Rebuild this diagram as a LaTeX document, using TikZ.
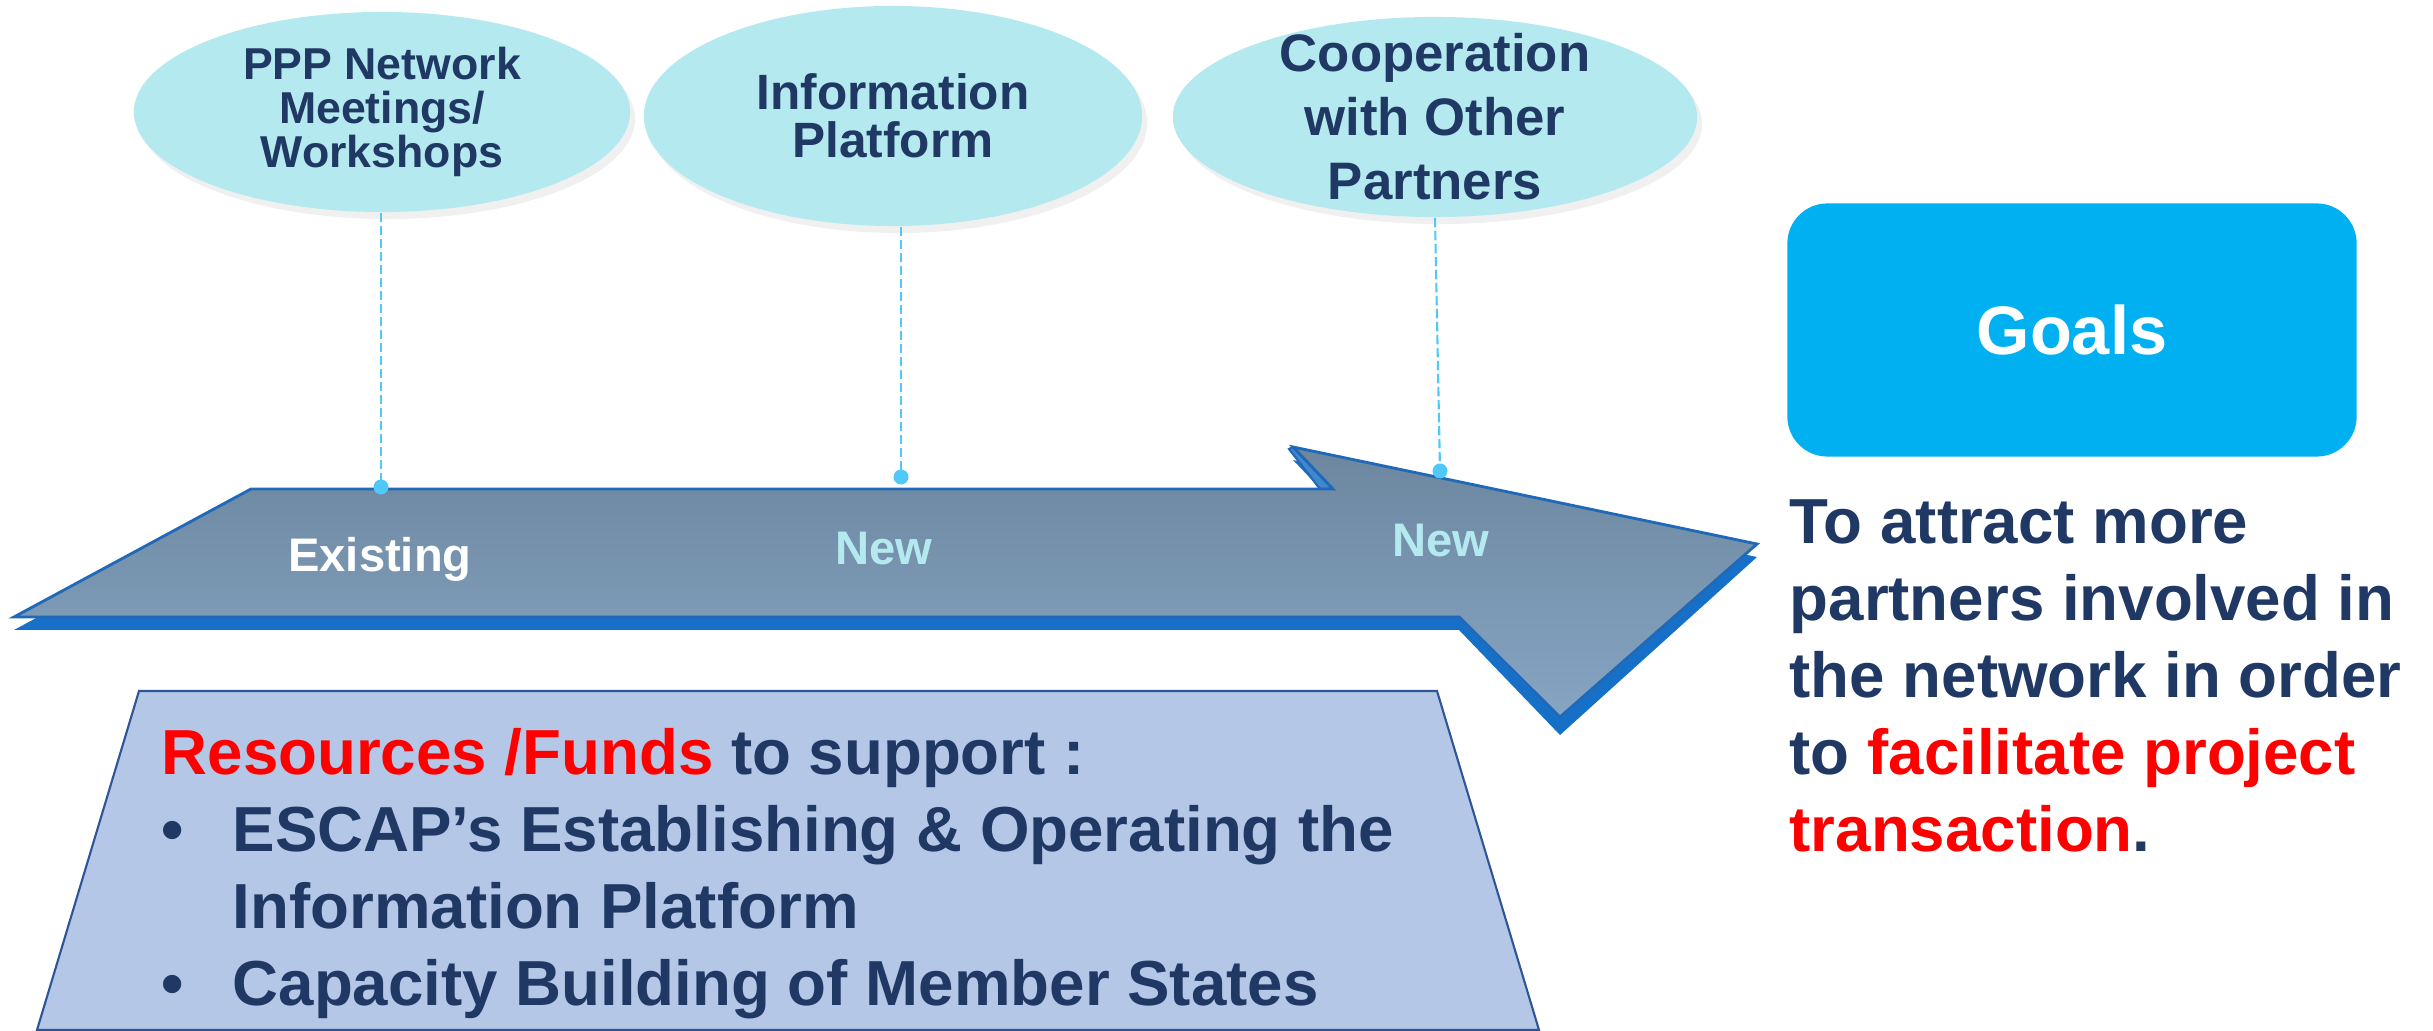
\documentclass[tikz,border=0pt]{standalone}
\usepackage{fontspec}
\setmainfont{Liberation Sans}
\usepackage{tikz}
\usetikzlibrary{shapes.geometric,shadows}
\definecolor{bubblecyan}{RGB}{180,234,239}
\definecolor{navy}{RGB}{31,56,100}
\definecolor{goalblue}{RGB}{0,176,240}
\definecolor{arrowtop}{RGB}{108,134,158}
\definecolor{arrowbot}{RGB}{134,165,196}
\definecolor{arrowside}{RGB}{23,112,200}
\definecolor{arrowstrip}{RGB}{64,135,205}
\definecolor{arrowline}{RGB}{32,104,184}
\definecolor{fundfill}{RGB}{180,199,231}
\definecolor{fundline}{RGB}{47,85,151}
\definecolor{dashblue}{RGB}{80,200,248}

\begin{document}
\begin{tikzpicture}[x=0.01cm,y=-0.01cm,
  bubble/.style={ellipse,fill=bubblecyan,text=navy,align=center,inner sep=0pt,
    drop shadow={opacity=0.12,shadow xshift=0.05cm,shadow yshift=-0.07cm}},
  marker/.style={dashblue,line width=0.6pt,dash pattern=on 2.7pt off 1pt},
  tag/.style={font=\fontsize{13.4pt}{16pt}\selectfont\bfseries,anchor=base,inner sep=0pt},
  bigtext/.style={font=\fontsize{18.1pt}{21.9pt}\selectfont\bfseries,text=navy,align=left,anchor=north west,inner sep=0pt}]
\useasboundingbox (0,0) rectangle (2433,1031);

\node[bubble,minimum width=4.96cm,minimum height=2cm,font=\fontsize{12.7pt}{12.4pt}\selectfont\bfseries] (meet) at (382,112) {PPP Network\\Meetings/\\Workshops};
\node[bubble,minimum width=4.98cm,minimum height=2.2cm,font=\fontsize{14.1pt}{13.7pt}\selectfont\bfseries] (info) at (893,116) {Information\\Platform};
\node[bubble,minimum width=5.24cm,minimum height=2cm,inner ysep=-0.3cm,font=\fontsize{15pt}{18.2pt}\selectfont\bfseries] (coop) at (1435,117) {Cooperation\\with Other\\Partners};

\fill[arrowside] (14,630) -- (251,502) -- (1333,502) -- (1293,460) -- (1757,557) -- (1560,735) -- (1459,630) -- cycle;
\filldraw[fill=arrowstrip,draw=arrowline,line width=0.6pt] (1289,449) -- (1320,489) -- (1333,489) -- (1293,447) -- cycle;
\shadedraw[top color=arrowtop,bottom color=arrowbot,draw=arrowline,line width=0.8pt] (14,617) -- (251,489) -- (1333,489) -- (1293,447) -- (1757,544) -- (1560,717) -- (1459,617) -- cycle;

\coordinate (d1) at (381,487);
\coordinate (d2) at (901,477);
\coordinate (d3) at (1440,471);
\draw[marker] (meet.south -| d1) -- (d1);
\draw[marker] (info.south -| d2) -- (d2);
\draw[marker] (coop.south) -- (d3);
\fill[dashblue] (d1) circle[radius=0.075cm];
\fill[dashblue] (d2) circle[radius=0.075cm];
\fill[dashblue] (d3) circle[radius=0.075cm];

\node[tag,text=white] (exist) at (380,572) {Existing};
\node[tag,text=bubblecyan] (new1) at (884,565) {New};
\node[tag,text=bubblecyan] (new2) at (1441,557) {New};

\node[rounded corners=0.4cm,fill=goalblue,minimum width=5.69cm,minimum height=2.53cm,text=white,font=\fontsize{19.5pt}{22pt}\selectfont\bfseries] (goals) at (2072,330) {Goals};
\node[bigtext] (aim) at (1789,499) {To attract more\\partners involved in\\the network in order\\to \textcolor{red}{facilitate project}\\\textcolor{red}{transaction}.};

\filldraw[fill=fundfill,draw=fundline,line width=0.6pt] (139,691) -- (1437,691) -- (1539,1030) -- (37,1030) -- cycle;
\node[bigtext] (funds) at (161,728) {\textcolor{red}{Resources /Funds} to support :\\\makebox[20.2pt][l]{•}ESCAP’s Establishing \& Operating the\\\hspace*{20.2pt}Information Platform\\\makebox[20.2pt][l]{•}Capacity Building of Member States};
\end{tikzpicture}
\end{document}
